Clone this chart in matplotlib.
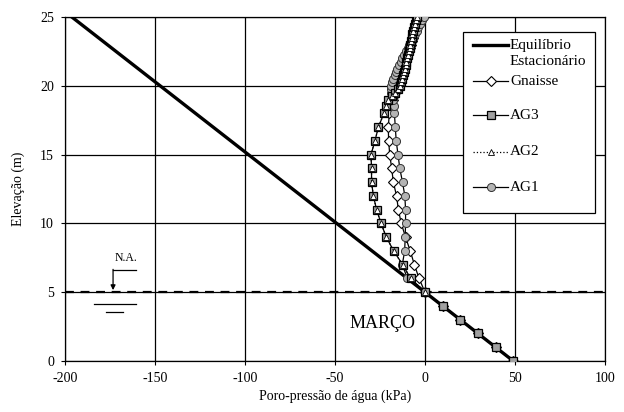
import matplotlib
matplotlib.use("Agg")
import matplotlib.pyplot as plt
from matplotlib.lines import Line2D
from matplotlib.patches import Rectangle

plt.rcParams['font.family'] = ['Liberation Serif', 'DejaVu Serif']
plt.rcParams['axes.unicode_minus'] = False

# ---------------- data ----------------
# steady-state (hydrostatic) line
eq_pressure = [-196.2, 49.05]
eq_elev = [25.0, 0.0]

# elevations of model nodes (m)
elev = [0, 1, 2, 3, 4, 5, 6, 7, 8, 9, 10, 11, 12, 13, 14, 15, 16, 17, 18,
        18.5, 19, 19.25, 19.5, 19.75, 20, 20.25, 20.5, 20.75, 21, 21.25,
        21.5, 21.75, 22, 22.25, 22.5, 22.75, 23, 23.25, 23.5, 23.75, 24,
        24.25, 24.5, 24.75, 25]

gnaisse = [49.05, 39.24, 29.43, 19.62, 9.81, 0.0, -3.3, -5.9, -8.2, -10.8,
           -13.2, -14.8, -15.8, -17.6, -18.5, -19.6, -20.2, -20.4, -19.8,
           -19.0, -18.0, -17.3, -16.6, -15.9, -15.2, -14.6, -14.0, -13.4,
           -12.8, -12.2, -11.6, -11.0, -10.4, -9.8, -9.2, -8.6, -8.0, -7.4,
           -6.8, -6.2, -5.6, -5.0, -4.3, -3.5, -2.6]

ag3 = [49.05, 39.24, 29.43, 19.62, 9.81, 0.0, -8.0, -12.4, -17.4, -21.5,
       -24.4, -26.9, -28.7, -29.7, -29.7, -30.0, -27.8, -25.9, -22.8,
       -21.6, -20.3, -18.6, -16.8, -15.2, -13.9, -13.3, -12.8, -12.3,
       -11.8, -11.3, -10.8, -10.3, -9.8, -9.4, -9.0, -8.6, -8.2, -7.8,
       -7.4, -7.0, -6.6, -6.1, -5.6, -5.1, -4.6]

elev_ag2 = elev[5:]
ag2 = ag3[5:]

ag1 = [49.05, 39.24, 29.43, 19.62, 9.81, 0.0, -9.8, -12.6, -11.3, -11.0,
       -10.8, -10.8, -11.2, -12.5, -14.0, -15.0, -16.0, -16.5, -17.0,
       -17.4, -18.0, -18.4, -18.8, -18.9, -18.7, -18.2, -17.6, -16.9,
       -16.1, -15.3, -14.5, -13.6, -12.7, -11.7, -10.7, -9.7, -8.7, -7.7,
       -6.7, -5.7, -4.7, -3.7, -2.7, -1.7, -0.7]

x_ticks = [-200, -150, -100, -50, 0, 50, 100]
y_ticks = [0, 5, 10, 15, 20, 25]
water_level = 5.0
labels = ['Equilíbrio', 'Gnaisse', 'AG3', 'AG2', 'AG1']

# ---------------- figure ----------------
fig = plt.figure(figsize=(6.24, 4.12), dpi=100)
ax = fig.add_axes([65/624, 1-361/412, 540/624, 344/412])

ax.set_xlim(-200, 100)
ax.set_ylim(0, 25)
ax.set_xticks(x_ticks)
ax.set_yticks(y_ticks)
ax.grid(True, color='black', linewidth=0.9)
ax.set_axisbelow(True)
ax.tick_params(direction='out', length=3, width=0.8, labelsize=10, pad=5)
for s in ax.spines.values():
    s.set_linewidth(0.9)

ax.axhline(water_level, color='black', linestyle=(0, (4, 3)), linewidth=1.6, zorder=2)

grey = '#b4b4b4'
sq_grey = '#a0a0a0'
st_eq = dict(color='black', linewidth=2.4)
st_gn = dict(color='black', linewidth=0.9, marker='D', markersize=5.0,
             markerfacecolor='white', markeredgecolor='black', markeredgewidth=0.8)
st_ag1 = dict(color='black', linewidth=0.9, marker='o', markersize=5.8,
              markerfacecolor=grey, markeredgecolor='#333333', markeredgewidth=0.7)
st_ag3 = dict(color='black', linewidth=0.9, marker='s', markersize=5.4,
              markerfacecolor=sq_grey, markeredgecolor='black', markeredgewidth=0.9)
st_ag2 = dict(color='black', linewidth=0.9, linestyle=':', marker='^', markersize=3.8,
              markerfacecolor='white', markeredgecolor='black', markeredgewidth=0.6)

ax.plot(eq_pressure, eq_elev, zorder=3, **st_eq)
ax.plot(gnaisse, elev, zorder=4, **st_gn)
ax.plot(ag1, elev, zorder=5, **st_ag1)
ax.plot(ag3, elev, zorder=6, **st_ag3)
ax.plot(ag2, elev_ag2, zorder=7, **st_ag2)

ax.set_xlabel('Poro-pressão de água (kPa)', fontsize=10, labelpad=3)
ax.set_ylabel('Elevação (m)', fontsize=10, labelpad=11)

# N.A. symbol
ax.text(-165.9, 7.45, 'N.A.', fontsize=8.5, ha='center', va='center')
ax.plot([-160.4, -173.3], [6.62, 6.62], color='black', linewidth=0.9)
ax.annotate('', xy=(-173.3, 5.15), xytext=(-173.3, 6.66),
            arrowprops=dict(arrowstyle='-|>', color='black', lw=0.9,
                            mutation_scale=7, shrinkA=0, shrinkB=0))
ax.plot([-183.9, -160.4], [4.17, 4.17], color='black', linewidth=0.9)
ax.plot([-177.0, -167.6], [3.54, 3.54], color='black', linewidth=0.9)

ax.text(-42.2, 2.75, 'MARÇO', fontsize=13, ha='left', va='center')

# ---------------- legend (drawn in axes fraction) ----------------
def fx(px):
    return (px - 65) / 540.0

def fy(py):
    return (361 - py) / 344.0

T = ax.transAxes
ax.add_patch(Rectangle((fx(463), fy(213)), fx(595) - fx(463), fy(32) - fy(213),
                       transform=T, facecolor='white', edgecolor='black',
                       linewidth=0.9, zorder=10, clip_on=False))
rows_py = [45, 81, 115, 151.5, 187]
styles = [st_eq, st_gn, st_ag3, st_ag2, st_ag1]
for py, st, lab in zip(rows_py, styles, labels):
    ln = dict(st)
    mk = ln.pop('marker', None)
    ax.add_line(Line2D([fx(473), fx(508)], [fy(py), fy(py)], transform=T,
                       zorder=11, clip_on=False, **ln))
    if mk is not None:
        ax.add_line(Line2D([fx(490.5)], [fy(py)], transform=T, zorder=12,
                           clip_on=False, marker=mk, linestyle='none',
                           markersize=st['markersize'],
                           markerfacecolor=st['markerfacecolor'],
                           markeredgecolor=st['markeredgecolor'],
                           markeredgewidth=st['markeredgewidth']))
    ax.text(fx(510), fy(py), lab, transform=T, fontsize=11, ha='left',
            va='center', zorder=12)
ax.text(fx(510), fy(61.7), 'Estacionário', transform=T, fontsize=11, ha='left',
        va='center', zorder=12)

fig.savefig('out.png', dpi=100)
